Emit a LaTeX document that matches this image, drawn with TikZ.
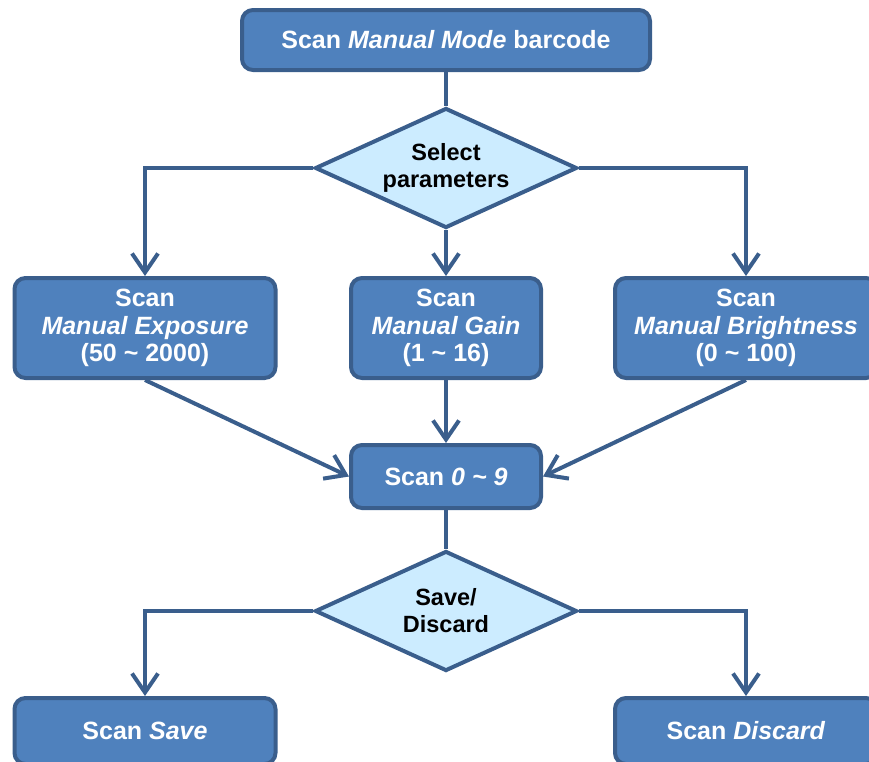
\documentclass[tikz,border=0pt]{standalone}
\usepackage{fontspec}
\setmainfont{Liberation Sans}
\usetikzlibrary{shapes.geometric,arrows.meta}
\definecolor{boxfill}{RGB}{79,129,189}
\definecolor{boxline}{RGB}{58,94,140}
\definecolor{dfill}{RGB}{204,236,255}
\tikzset{
  x=1pt,y=-1pt,
  bbox/.style={rectangle,rounded corners=11pt,draw=boxline,fill=boxfill,line width=4pt,
    text=white,font=\fontsize{25}{27.5}\selectfont\bfseries,align=center,inner sep=0pt},
  dbox/.style={diamond,draw=boxline,fill=dfill,line width=4pt,shape aspect=2.2,
    minimum width=262pt,minimum height=120pt,inner sep=0pt,
    text=black,font=\fontsize{23.5}{27}\selectfont\bfseries,align=center},
  conn/.style={draw=boxline,line width=4pt},
  arr/.style={conn,-{Straight Barb[length=19pt,width=26pt,line width=4pt]}}
}
\begin{document}
\begin{tikzpicture}
\useasboundingbox (0,0) rectangle (869,761);
\node[bbox,minimum width=408pt,minimum height=60pt] (top) at (446,40) {Scan \textit{Manual Mode} barcode};
\node[dbox] (d1) at (446,168) {Select\\parameters};
\node[bbox,minimum width=261pt,minimum height=100pt] (exp) at (145,328) {Scan\\\textit{Manual Exposure}\\(50 \textasciitilde{} 2000)};
\node[bbox,minimum width=190pt,minimum height=100pt] (gain) at (446,328) {Scan\\\textit{Manual Gain}\\(1 \textasciitilde{} 16)};
\node[bbox,minimum width=262pt,minimum height=100pt] (bri) at (746,328) {Scan\\\textit{Manual Brightness}\\(0 \textasciitilde{} 100)};
\node[bbox,minimum width=190pt,minimum height=63pt] (num) at (446,476.5) {Scan \textit{0 \textasciitilde{} 9}};
\node[dbox] (d2) at (446,611) {Save/\\Discard};
\node[bbox,minimum width=261pt,minimum height=66pt] (save) at (145,731) {Scan \textit{Save}};
\node[bbox,minimum width=262pt,minimum height=66pt] (disc) at (746,731) {Scan \textit{Discard}};
\draw[conn] (top.south) -- (d1.north);
\draw[arr] (d1.west) -| (exp.north);
\draw[arr] (d1.south) -- (gain.north);
\draw[arr] (d1.east) -| (bri.north);
\draw[arr] (exp.south) -- (num.west);
\draw[arr] (gain.south) -- (num.north);
\draw[arr] (bri.south) -- (num.east);
\draw[conn] (num.south) -- (d2.north);
\draw[arr] (d2.west) -| (save.north);
\draw[arr] (d2.east) -| (disc.north);
\end{tikzpicture}
\end{document}
